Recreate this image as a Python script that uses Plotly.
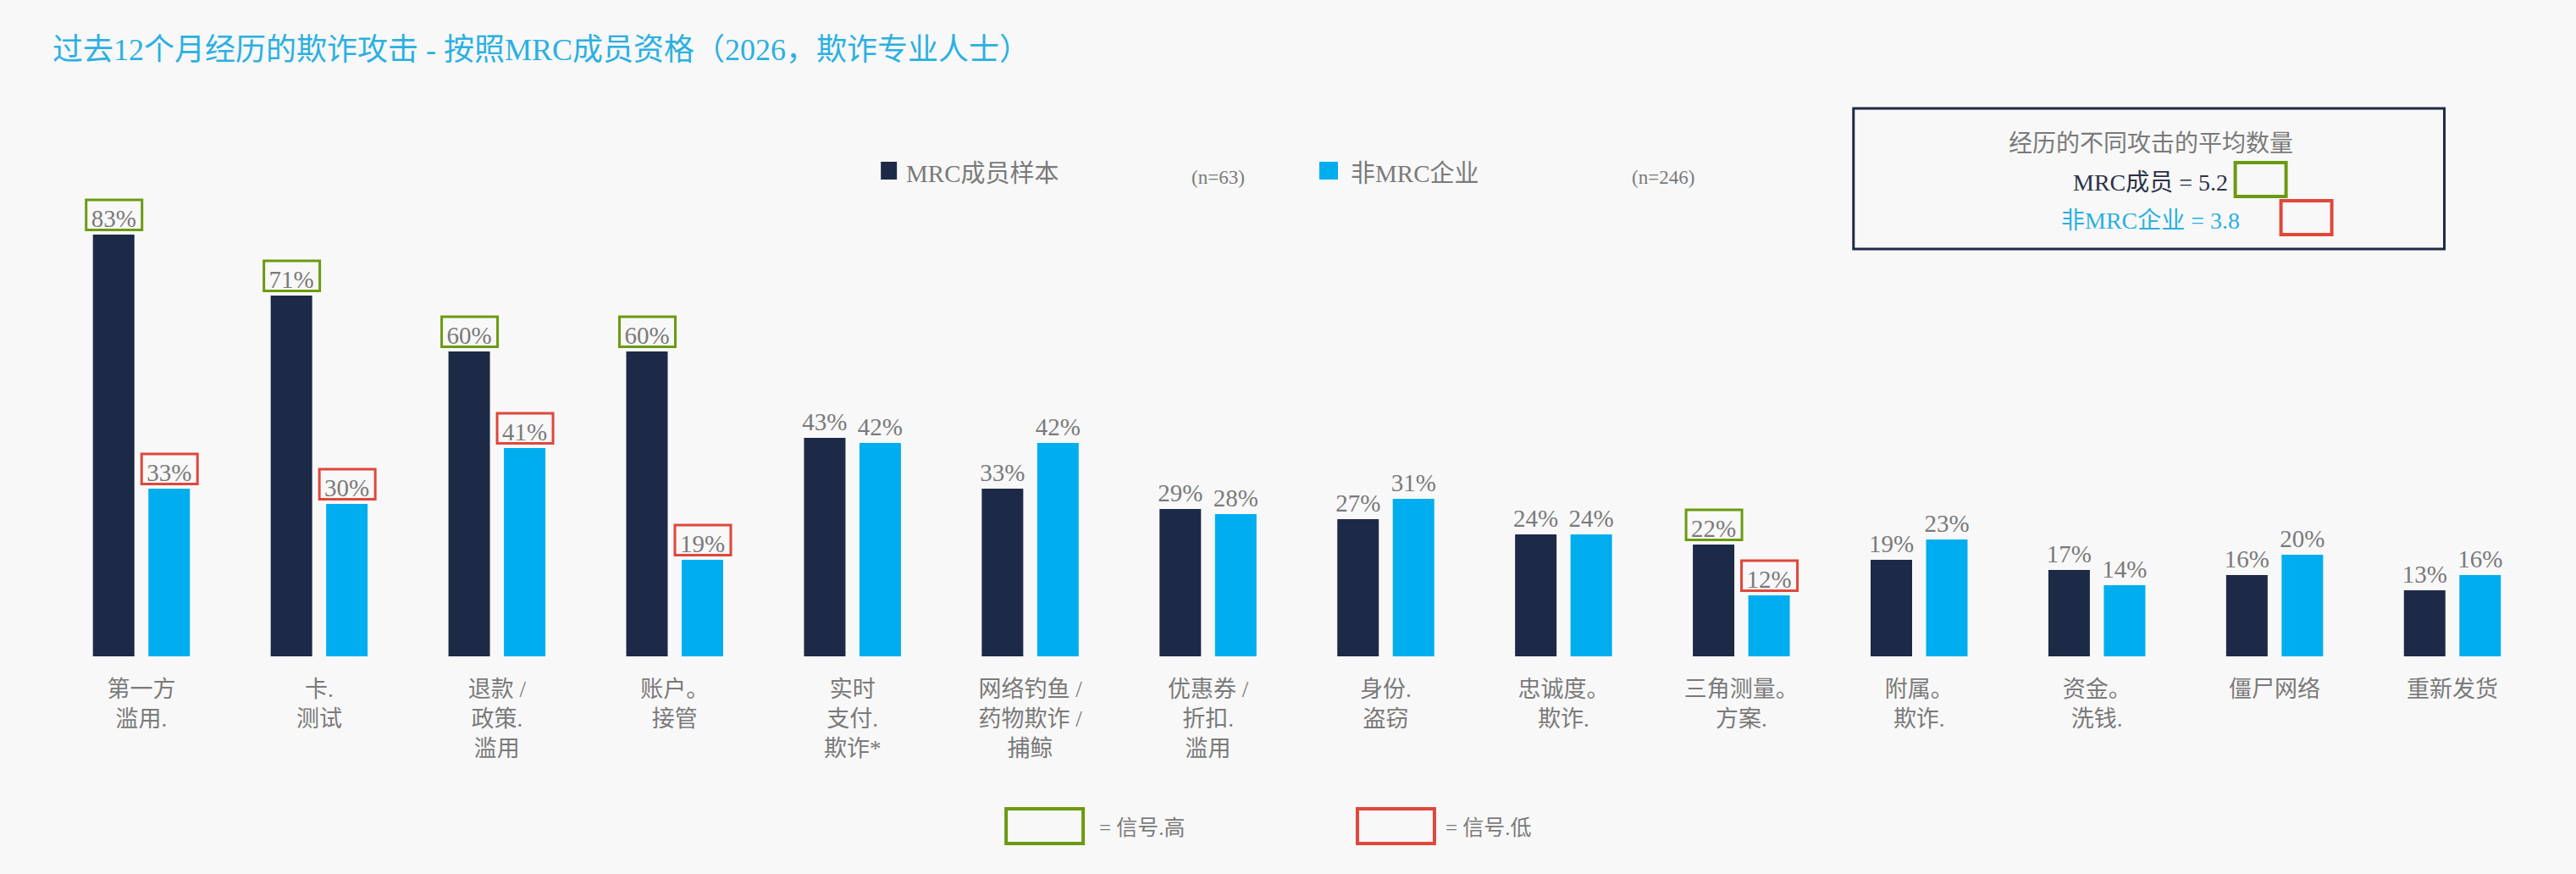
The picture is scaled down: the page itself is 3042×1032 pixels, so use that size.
import plotly.graph_objects as go

# ---------------- data ----------------
categories = [
    "第一方<br>滥用.",
    "卡.<br>测试",
    "退款 /<br>政策.<br>滥用",
    "账户。<br>接管",
    "实时<br>支付.<br>欺诈*",
    "网络钓鱼 /<br>药物欺诈 /<br>捕鲸",
    "优惠券 /<br>折扣.<br>滥用",
    "身份.<br>盗窃",
    "忠诚度。<br>欺诈.",
    "三角测量。<br>方案.",
    "附属。<br>欺诈.",
    "资金。<br>洗钱.",
    "僵尸网络",
    "重新发货",
]
mrc_values = [83, 71, 60, 60, 43, 33, 29, 27, 24, 22, 19, 17, 16, 13]
non_mrc_values = [33, 30, 41, 19, 42, 42, 28, 31, 24, 12, 23, 14, 20, 16]
mrc_signal = ["high", "high", "high", "high", "", "", "", "", "", "high", "", "", "", ""]
non_mrc_signal = ["low", "low", "low", "low", "", "", "", "", "", "low", "", "", "", ""]

series_names = ["MRC成员样本", "非MRC企业"]
series_n = ["(n=63)", "(n=246)"]
title_text = "过去12个月经历的欺诈攻击 - 按照MRC成员资格（2026，欺诈专业人士）"
avg_title = "经历的不同攻击的平均数量"
avg_lines = ["MRC成员 = 5.2", "非MRC企业 = 3.8"]
signal_keys = ["high", "low"]
signal_labels = ["= 信号.高", "= 信号.低"]

# ---------------- style ----------------
NAVY = "#1d2a47"
BLUE = "#00aeef"
GREEN = "#6b9a10"
RED = "#e0473a"
GRAY = "#7a7a7a"
CYAN = "#2bb0e2"
BG = "#f8f8f8"
FONT = "Liberation Serif, 'Noto Sans CJK SC', serif"
SIGNAL_COLOR = {"high": GREEN, "low": RED}

W, H = 3042, 1032
PL, PR, PT, PB = 61.5, 40.5, 175, 257
PW = W - PL - PR
PH = H - PT - PB
BARGAP = 0.376
BARGROUPGAP = 0.252


def px_x(px):
    return (px - PL) / PW


def px_y(py):
    return (H - PB - py) / PH


def fnt(size, color):
    return dict(size=size, color=color, family=FONT)


fig = go.Figure()
for name, vals, color in [(series_names[0], mrc_values, NAVY),
                          (series_names[1], non_mrc_values, BLUE)]:
    fig.add_trace(go.Bar(
        x=categories, y=vals, name=name,
        marker=dict(color=color, line=dict(width=0)),
        text=[f"{v}%" for v in vals],
        textposition="outside",
        textfont=fnt(29, GRAY),
        constraintext="none",
        cliponaxis=False,
        hoverinfo="skip",
    ))

shapes = []
annotations = []

# signal boxes around data labels
slot = (1 - BARGAP) / 2
for offs, vals, sig in [(-slot / 2, mrc_values, mrc_signal),
                        (slot / 2, non_mrc_values, non_mrc_signal)]:
    for i, (v, s) in enumerate(zip(vals, sig)):
        if not s:
            continue
        shapes.append(dict(
            type="rect", xref="x", yref="y",
            xsizemode="pixel", xanchor=i + offs, x0=-32.5, x1=33.5,
            ysizemode="pixel", yanchor=v, y0=5.5, y1=41,
            line=dict(color=SIGNAL_COLOR[s], width=3),
            fillcolor="rgba(0,0,0,0)",
        ))

# top legend (squares + labels)
legend_items = [
    (1040, 1059, 1070, 1407, NAVY),
    (1558, 1580, 1595, 1927, BLUE),
]
for (sx0, sx1, tx, nx, color), name, n in zip(legend_items, series_names, series_n):
    shapes.append(dict(type="rect", xref="paper", yref="paper",
                       x0=px_x(sx0), x1=px_x(sx1), y0=px_y(212), y1=px_y(191),
                       fillcolor=color, line=dict(width=0)))
    annotations.append(dict(xref="paper", yref="paper", x=px_x(tx), y=px_y(205),
                            xanchor="left", yanchor="middle", showarrow=False,
                            text=name, font=fnt(29, GRAY),
                            borderpad=0, borderwidth=0))
    annotations.append(dict(xref="paper", yref="paper", x=px_x(nx), y=px_y(209),
                            xanchor="left", yanchor="middle", showarrow=False,
                            text=n, font=fnt(23, GRAY),
                            borderpad=0, borderwidth=0))

# average box
shapes.append(dict(type="rect", xref="paper", yref="paper",
                   x0=px_x(2189), x1=px_x(2887), y0=px_y(294), y1=px_y(128),
                   line=dict(color=NAVY, width=3), fillcolor="rgba(0,0,0,0)"))
for text, py, color in [(avg_title, 169, GRAY), (avg_lines[0], 215, "#2b3247"),
                        (avg_lines[1], 260, CYAN)]:
    annotations.append(dict(xref="paper", yref="paper", x=px_x(2540), y=px_y(py),
                            xanchor="center", yanchor="middle", showarrow=False,
                            text=text, font=fnt(28, color),
                            borderpad=0, borderwidth=0))
shapes.append(dict(type="rect", xref="paper", yref="paper",
                   x0=px_x(2640), x1=px_x(2700), y0=px_y(232), y1=px_y(192),
                   line=dict(color=GREEN, width=4), fillcolor="rgba(0,0,0,0)"))
shapes.append(dict(type="rect", xref="paper", yref="paper",
                   x0=px_x(2694), x1=px_x(2754), y0=px_y(277), y1=px_y(237),
                   line=dict(color=RED, width=4), fillcolor="rgba(0,0,0,0)"))

# bottom signal legend
for (bx0, bx1, tx), key, label in zip([(1188, 1279, 1298), (1603, 1694, 1707)],
                                      signal_keys, signal_labels):
    shapes.append(dict(type="rect", xref="paper", yref="paper",
                       x0=px_x(bx0), x1=px_x(bx1), y0=px_y(996), y1=px_y(955),
                       line=dict(color=SIGNAL_COLOR[key], width=4),
                       fillcolor="rgba(0,0,0,0)"))
    annotations.append(dict(xref="paper", yref="paper", x=px_x(tx), y=px_y(977),
                            xanchor="left", yanchor="middle", showarrow=False,
                            text=label, font=fnt(25, GRAY),
                            borderpad=0, borderwidth=0))

fig.update_layout(
    width=W, height=H,
    margin=dict(l=PL, r=PR, t=PT, b=PB, pad=0),
    paper_bgcolor=BG, plot_bgcolor=BG,
    barmode="group", bargap=BARGAP, bargroupgap=BARGROUPGAP,
    showlegend=False,
    title=dict(text=title_text, xref="container", yref="container",
               x=62 / W, xanchor="left", y=1 - 58 / H, yanchor="middle",
               font=fnt(36, CYAN)),
    xaxis=dict(showline=False, showgrid=False, zeroline=False, ticks="",
               tickfont=fnt(27, GRAY), ticklabelstandoff=20,
               categoryorder="array", categoryarray=categories),
    yaxis=dict(range=[0, 100], visible=False, showgrid=False, zeroline=False),
    shapes=shapes,
    annotations=annotations,
    font=dict(family=FONT, color=GRAY),
)

fig.write_html("out.html")
